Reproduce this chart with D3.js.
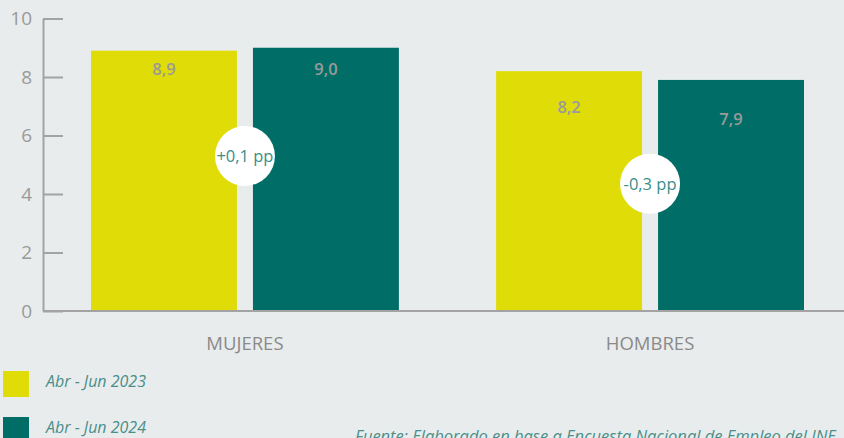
<!DOCTYPE html>
<html>
<head>
<meta charset="utf-8">
<script src="https://cdn.jsdelivr.net/npm/d3@7"></script>
<style>
    body { margin: 0; background: #e9eced; }
    svg { display: block; font-family: "Open Sans", "Noto Sans", sans-serif; }
</style>
</head>
<body>
<svg id="drawing_region"></svg>
<script>
// data
const categories = ['MUJERES', 'HOMBRES'];
const series = ['Abr - Jun 2023', 'Abr - Jun 2024'];
const values2023 = [8.9, 8.2];
const values2024 = [9.0, 7.9];
const labels2023 = ['8,9', '8,2'];
const labels2024 = ['9,0', '7,9'];
const changes = ['+0,1 pp', '-0,3 pp'];
const yTicks = [0, 2, 4, 6, 8, 10];
// label / bubble heights, in value units
const labelAt2023 = [8.25, 6.95];
const labelAt2024 = [8.25, 6.55];
const bubbleAt = [5.3, 4.35];
const source = 'Fuente: Elaborado en base a Encuesta Nacional de Empleo del INE';

const colors = ['#dfdc08', '#006e67'];

const width = 844, height = 438;
const svg = d3.select('#drawing_region')
    .attr('width', width)
    .attr('height', height);

const yscale = d3.scaleLinear()
    .domain([0, 10])
    .range([311, 18.5]);

const x0 = d3.scaleBand()
    .domain(categories)
    .range([91, 804])
    .paddingInner(0.24);

const x1 = d3.scaleBand()
    .domain(series)
    .range([0, x0.bandwidth()])
    .paddingInner(0.0988);

const rows = categories.map((c, i) => ({
    cat: c,
    bars: [
        { s: series[0], v: values2023[i], label: labels2023[i], at: labelAt2023[i] },
        { s: series[1], v: values2024[i], label: labels2024[i], at: labelAt2024[i] }
    ],
    change: changes[i],
    bubble: bubbleAt[i]
}));

// baseline
svg.append('line')
    .attr('x1', 43).attr('x2', width)
    .attr('y1', yscale(0)).attr('y2', yscale(0))
    .attr('stroke', '#a3a3a3')
    .attr('stroke-width', 2);

// bars
const groups = svg.selectAll('g.cat')
    .data(rows)
    .enter()
    .append('g')
    .attr('class', 'cat')
    .attr('transform', d => `translate(${x0(d.cat)},0)`);

groups.selectAll('rect')
    .data(d => d.bars)
    .enter()
    .append('rect')
    .attr('x', d => x1(d.s))
    .attr('y', d => yscale(d.v))
    .attr('width', x1.bandwidth())
    .attr('height', d => yscale(0) - 1 - yscale(d.v))
    .attr('fill', (d, i) => colors[i]);

groups.selectAll('text.val')
    .data(d => d.bars)
    .enter()
    .append('text')
    .attr('class', 'val')
    .attr('x', d => x1(d.s) + x1.bandwidth() / 2)
    .attr('y', d => yscale(d.at))
    .attr('dy', '0.35em')
    .attr('text-anchor', 'middle')
    .attr('font-size', 16.5)
    .attr('font-weight', 600)
    .attr('fill', '#9a9a9a')
    .text(d => d.label);

// change bubbles
groups.append('circle')
    .attr('cx', x0.bandwidth() / 2)
    .attr('cy', d => yscale(d.bubble))
    .attr('r', 30)
    .attr('fill', '#ffffff');

groups.append('text')
    .attr('x', x0.bandwidth() / 2)
    .attr('y', d => yscale(d.bubble))
    .attr('dy', '0.35em')
    .attr('text-anchor', 'middle')
    .attr('font-size', 16.5)
    .attr('fill', '#3a8e89')
    .text(d => d.change);

// category labels
svg.selectAll('text.cat')
    .data(categories)
    .enter()
    .append('text')
    .attr('class', 'cat')
    .attr('x', d => x0(d) + x0.bandwidth() / 2)
    .attr('y', 350)
    .attr('text-anchor', 'middle')
    .attr('font-size', 18.5)
    .attr('fill', '#8a8a8a')
    .text(d => d);

// y axis
const yaxis = d3.axisLeft(yscale)
    .tickValues(yTicks)
    .tickSize(-20)
    .tickSizeOuter(0)
    .tickPadding(11)
    .tickFormat(d3.format('d'));

const yaxis_group = svg.append('g')
    .attr('transform', 'translate(43,0)')
    .call(yaxis);

yaxis_group.select('.domain')
    .attr('stroke', '#a3a3a3')
    .attr('stroke-width', 2);
yaxis_group.selectAll('.tick line')
    .attr('stroke', '#a3a3a3')
    .attr('stroke-width', 2);
yaxis_group.selectAll('.tick text')
    .attr('fill', '#9a9a9a')
    .attr('font-size', 19)
    .attr('font-family', '"Open Sans", "Noto Sans", sans-serif');

// legend
const legend = svg.selectAll('g.legend')
    .data(series)
    .enter()
    .append('g')
    .attr('class', 'legend')
    .attr('transform', (d, i) => `translate(3,${371 + i * 46})`);

legend.append('rect')
    .attr('width', 26)
    .attr('height', 26)
    .attr('fill', (d, i) => colors[i]);

legend.append('text')
    .attr('x', 43)
    .attr('y', 16)
    .attr('font-size', 16)
    .attr('font-style', 'italic')
    .attr('fill', '#4a8f8a')
    .text(d => d);

// source
svg.append('text')
    .attr('x', 355)
    .attr('y', 442)
    .attr('font-size', 16.5)
    .attr('font-style', 'italic')
    .attr('fill', '#4a8f8a')
    .text(source);
</script>
</body>
</html>
